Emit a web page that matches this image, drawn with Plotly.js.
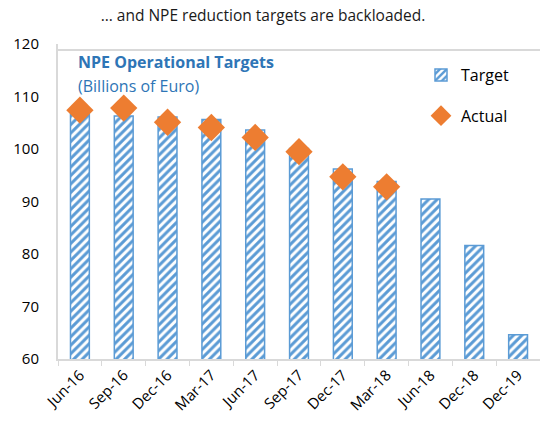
<!DOCTYPE html>
<html><head><meta charset="utf-8">
<script src="https://cdn.plot.ly/plotly-3.0.1.min.js"></script>
<style>html,body{margin:0;padding:0;background:#fff}#chart{width:540px;height:434px}</style>
</head><body><div id="chart"></div>
<script>
const categories = ["Jun-16","Sep-16","Dec-16","Mar-17","Jun-17","Sep-17","Dec-17","Mar-18","Jun-18","Dec-18","Dec-19"];
const targetValues = [106.9, 106.3, 106.1, 105.6, 103.6, 100.1, 96.2, 93.8, 90.5, 81.6, 64.6];
const actualValues = [107.4, 107.8, 105.1, 104.1, 102.2, 99.5, 94.7, 92.8, null, null, null];
const yTicks = [60, 70, 80, 90, 100, 110, 120];

const FONT = "Open Sans, Noto Sans, sans-serif";
const traces = [
  {type:"bar", name:"Target", x:categories, y:targetValues, width:0.43, legendgroup:"a",
   marker:{color:"#ffffff", line:{color:"#5B9BD5", width:1.5},
     pattern:{shape:"/", fgcolor:"#5B9BD5", bgcolor:"#ffffff", size:6, solidity:0.5}}},
  {type:"scatter", mode:"markers", name:"Actual", x:categories, y:actualValues, legendgroup:"b",
   marker:{symbol:"diamond", size:21, color:"#ED7D31"}}
];
const layout = {
  width:540, height:434,
  margin:{l:58, r:0, t:44, b:75},
  paper_bgcolor:"#fff", plot_bgcolor:"#fff",
  font:{family:FONT, color:"#000", size:15},
  title:{text:"… and NPE reduction targets are backloaded.", x:263/540, xanchor:"center", xref:"container",
         y:1-16/434, yanchor:"middle", yref:"container", font:{size:15.5, color:"#1a1a1a", family:FONT}},
  xaxis:{type:"category", range:[-0.5,10.5], showline:true, linecolor:"#D9D9D9", linewidth:1.5,
         ticks:"outside", tickson:"boundaries", ticklen:5, tickcolor:"#D9D9D9",
         tickangle:-45, tickfont:{size:15, family:FONT}, showgrid:false},
  yaxis:{range:[60,120], tickvals:yTicks, showgrid:false, showline:true, linecolor:"#D9D9D9", linewidth:2,
         ticks:"", ticklabelstandoff:14, tickfont:{size:15, family:FONT}, zeroline:false},
  showlegend:true,
  legend:{x:(421-58)/482, xanchor:"left", y:(359-58)/315, yanchor:"top",
          font:{size:16, family:FONT}, tracegroupgap:17, bgcolor:"rgba(0,0,0,0)"},
  shapes:[{type:"line", xref:"paper", yref:"paper", x0:0, x1:1, y0:(359-50)/315, y1:(359-50)/315, line:{color:"#D9D9D9", width:2}}],
  annotations:[
    {xref:"paper", yref:"paper", x:(76-58)/482, y:(359-62)/315, xanchor:"left", yanchor:"middle", showarrow:false,
     text:"<b>NPE Operational Targets</b>", font:{size:16, color:"#2E75B6", family:FONT}},
    {xref:"paper", yref:"paper", x:(76-58)/482, y:(359-86)/315, xanchor:"left", yanchor:"middle", showarrow:false,
     text:"(Billions of Euro)", font:{size:16, color:"#2E75B6", family:FONT}}
  ]
};
Plotly.newPlot("chart", traces, layout, {displayModeBar:false, staticPlot:true});
</script></body></html>
